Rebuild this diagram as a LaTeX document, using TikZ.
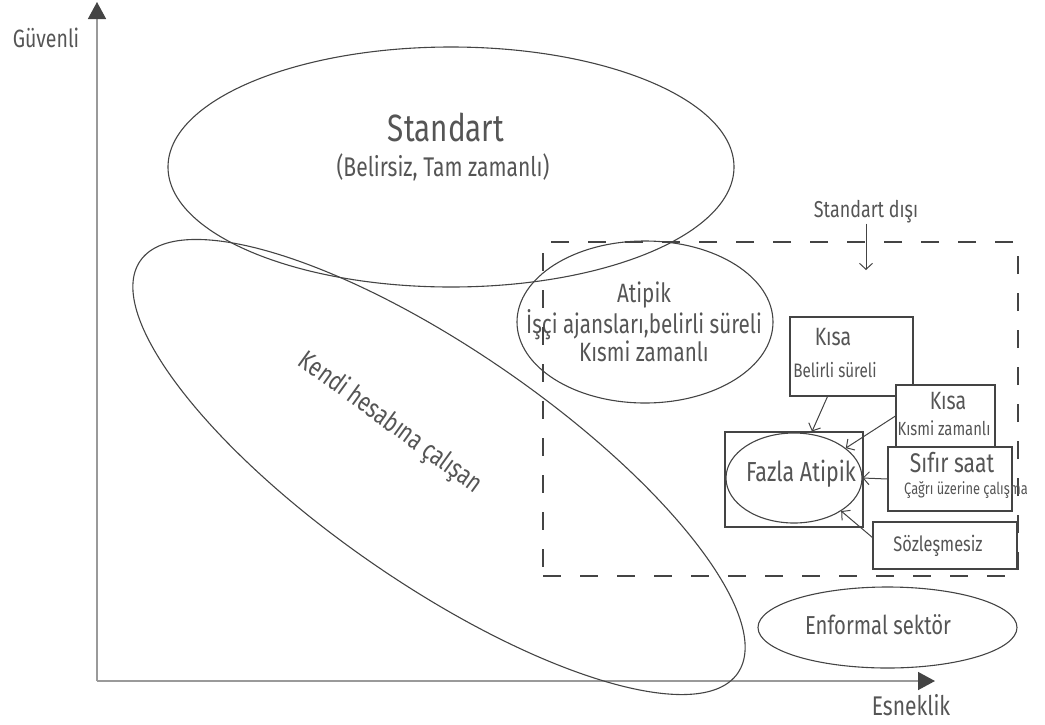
\documentclass[tikz,border=0pt]{standalone}
\usepackage{fontspec}
\setmainfont{Fira Sans}[FakeStretch=0.78]
\usetikzlibrary{arrows.meta, shapes.geometric, positioning}

\definecolor{linegray}{HTML}{444444}
\definecolor{txtgray}{HTML}{555555}
\definecolor{axisgray}{HTML}{9A9A9A}

\newcommand{\fsz}[1]{\fontsize{#1}{#1}\selectfont}

\begin{document}
\begin{tikzpicture}[x=1pt, y=-1pt,
    blob/.style={ellipse, draw=linegray, line width=1.1pt, inner sep=0pt},
    box/.style={rectangle, draw=linegray, line width=1.1pt, fill=white, inner sep=0pt},
    txt/.style={text=txtgray, inner sep=0pt, align=center},
    feed/.style={-{Straight Barb[length=6pt, width=13pt]}, draw=linegray, line width=1pt},
    axis/.style={-{Triangle[length=17pt, width=18pt, color=linegray]}, draw=axisgray, line width=1.5pt}]
    \useasboundingbox (0,0) rectangle (1045,724);

    % axes
    \coordinate (origin) at (97,681);
    \coordinate (ytop) at (97,2);
    \coordinate (xend) at (935,681);
    \draw[axis] (origin) -- (ytop);
    \draw[axis] (origin) -- (xend);
    \node[txt, font=\fsz{25}] (guvenli) at (46,38) {Güvenli};
    \node[txt, font=\fsz{27}] (esneklik) at (911,705) {Esneklik};

    % big regions
    \node[blob, minimum width=566pt, minimum height=240pt] (std) at (451,167) {};
    \node[txt, font=\fsz{38}] (stdlbl) at (446,127) {Standart};
    \node[txt, font=\fsz{27}] (stdsub) at (443,167) {(Belirsiz, Tam zamanlı)};

    \node[blob, minimum width=726pt, minimum height=234pt, rotate=-34.6] (kendi) at (439,467) {};
    \node[txt, font=\fsz{27}, rotate=-36] (kendilbl) at (390,423) {Kendi hesabına çalışan};

    \node[blob, minimum width=256pt, minimum height=162pt] (atipik) at (645,322) {};
    \node[txt, font=\fontsize{26.5}{25}\selectfont] (atipiklbl) at (644,322)
        {Atipik\\İşçi ajansları,belirli süreli\\Kısmi zamanlı};

    % non-standard frame
    \node[draw=linegray, line width=2.2pt, dash pattern=on 18pt off 19pt, minimum width=475pt, minimum height=334pt] (nonstd) at (780.5,409) {};
    \node[txt, font=\fsz{23}] (dislbl) at (866,212) {Standart dışı};
    \coordinate (distip) at (866,270);
    \draw[feed] (dislbl.south) -- (distip);

    % very atypical
    \node[box, minimum width=138pt, minimum height=95pt] (fazlabox) at (794,479.5) {};
    \node[blob, minimum width=136pt, minimum height=90pt] (fazla) at (794,478) {};
    \node[txt, font=\fsz{27.5}] (fazlalbl) at (801,474) {Fazla Atipik};

    \node[box, minimum width=123pt, minimum height=79pt] (kisa1) at (851.5,356.5) {};
    \node[box, minimum width=99pt, minimum height=62pt] (kisa2) at (945.5,416) {};
    \node[box, minimum width=124pt, minimum height=64pt] (sifir) at (950,479) {};
    \node[box, minimum width=144pt, minimum height=47pt] (sozlesme) at (945,545.5) {};

    \node[txt, font=\fsz{25}] (kisa1a) at (833,337) {Kısa};
    \node[txt, font=\fsz{19.5}] (kisa1b) at (835,370) {Belirli süreli};
    \node[txt, font=\fsz{25}] (kisa2a) at (948,401) {Kısa};
    \node[txt, font=\fsz{19}] (kisa2b) at (944,428) {Kısmi zamanlı};
    \node[txt, font=\fsz{27}] (sifira) at (952,463) {Sıfır saat};
    \node[txt, font=\fsz{16.5}] (sifirb) at (966,490) {Çağrı üzerine çalışma};
    \node[txt, font=\fsz{21}] (sozlbl) at (938,546) {Sözleşmesiz};

    \draw[feed] ([xshift=-24pt]kisa1.south) -- ([xshift=18pt]fazlabox.north);
    \draw[feed] (kisa2.west) -- (fazla.30);
    \draw[feed] (sifir.west) -- (fazla.east);
    \draw[feed] ([yshift=8pt]sozlesme.west) -- (fazla.-35);

    % informal
    \node[blob, minimum width=259pt, minimum height=81pt] (enformal) at (887.5,627.5) {};
    \node[txt, font=\fsz{26}] (enformallbl) at (878,625) {Enformal sektör};
\end{tikzpicture}
\end{document}
